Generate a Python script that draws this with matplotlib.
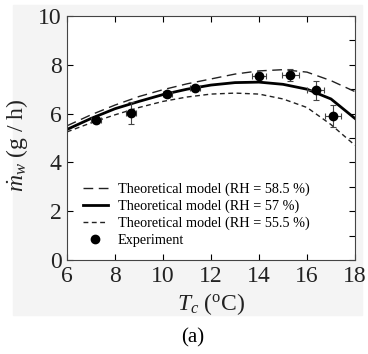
import numpy as np
import matplotlib
matplotlib.use("Agg")
from matplotlib import pyplot as plt
from matplotlib.ticker import MultipleLocator
from matplotlib.patches import Rectangle
from matplotlib.lines import Line2D

plt.rcParams['font.family'] = 'serif'
plt.rcParams['font.serif'] = ['Liberation Serif', 'DejaVu Serif']
plt.rcParams['mathtext.fontset'] = 'custom'
plt.rcParams['mathtext.rm'] = 'Liberation Serif'
plt.rcParams['mathtext.it'] = 'Liberation Serif:italic'
plt.rcParams['mathtext.bf'] = 'Liberation Serif:bold'

# model curves (Tc in degC, m_w in g/h)
t_model = [6, 7, 8, 9, 10, 11, 12, 13, 14, 15, 16, 17, 18]
m_585 = [5.5, 5.95, 6.35, 6.7, 6.98, 7.22, 7.42, 7.62, 7.75, 7.8, 7.7, 7.35, 6.9]
m_57 = [5.35, 5.8, 6.2, 6.5, 6.78, 7.0, 7.17, 7.27, 7.29, 7.2, 7.0, 6.6, 5.8]
m_555 = [5.25, 5.62, 5.95, 6.25, 6.5, 6.68, 6.8, 6.84, 6.8, 6.6, 6.25, 5.55, 4.7]

# experiment
t_exp = [7.22, 8.67, 10.18, 11.33, 14.0, 15.3, 16.37, 17.08]
m_exp = [5.72, 6.02, 6.8, 7.05, 7.55, 7.57, 6.95, 5.9]
m_err = [0.1, 0.45, 0.1, 0.1, 0.1, 0.25, 0.4, 0.45]
t_err = [0.2, 0.2, 0.2, 0.2, 0.3, 0.35, 0.35, 0.35]

fig = plt.figure(figsize=(3.68, 3.54), dpi=100)
fig.patches.append(Rectangle((13/368, 1-315/354), 349/368, 310/354,
                             transform=fig.transFigure, color='#f4f4f4', zorder=-10))
ax = fig.add_axes([67/368, 1-260/354, 288/368, 244/354])
ax.set_facecolor('white')

l1, = ax.plot(t_model, m_585, color='#222222', lw=1.0, dashes=(7, 4))
l2, = ax.plot(t_model, m_57, color='black', lw=2.0)
l3, = ax.plot(t_model, m_555, color='#222222', lw=1.0, dashes=(3.5, 2.5))
ax.errorbar(t_exp, m_exp, yerr=m_err, xerr=t_err, fmt='o', color='black',
            ms=6, ecolor='#444444', elinewidth=0.8, capsize=2.5, capthick=0.8)
dot = Line2D([], [], marker='o', ls='none', color='black', ms=6)

ax.set_xlim(6, 18)
ax.set_ylim(0, 10)
ax.xaxis.set_major_locator(MultipleLocator(2))
ax.yaxis.set_major_locator(MultipleLocator(2))
ax.yaxis.set_minor_locator(MultipleLocator(1))
ax.tick_params(which='major', direction='in', top=True, right=True,
               length=4, width=0.8, labelsize=17, pad=4, labelcolor='#222222')
ax.tick_params(which='minor', direction='in', left=False, right=True,
               length=4, width=0.8)
ax.tick_params(axis='x', which='minor', bottom=False, top=False)
for lbl in ax.get_xticklabels() + ax.get_yticklabels():
    lbl.set_fontfamily('Liberation Serif')
for s in ax.spines.values():
    s.set_color('#444444')

ax.set_xlabel(r'$T_c$ ($^{\rm o}$C)', fontsize=17, labelpad=3,
              fontfamily='Liberation Serif', color='#222222')
ax.set_ylabel(r'$\dot{m}_w$ (g / h)', fontsize=17,
              fontfamily='Liberation Serif', color='#222222')
ax.yaxis.set_label_coords(-0.128, 0.47)

ax.legend([l1, l2, l3, dot],
          ['Theoretical model (RH = 58.5 %)', 'Theoretical model (RH = 57 %)',
           'Theoretical model (RH = 55.5 %)', 'Experiment'],
          loc='lower left', bbox_to_anchor=(0.035, 0.03), frameon=False,
          fontsize=10.3, handlelength=1.75, handletextpad=0.7,
          labelspacing=0.25, borderaxespad=0.0,
          prop={'family': 'Liberation Serif', 'size': 10.3})

fig.text(193/368, 1-338/354, '(a)', fontsize=15, ha='center', va='center',
         fontfamily='Liberation Serif')

fig.savefig('out.png', dpi=100)
